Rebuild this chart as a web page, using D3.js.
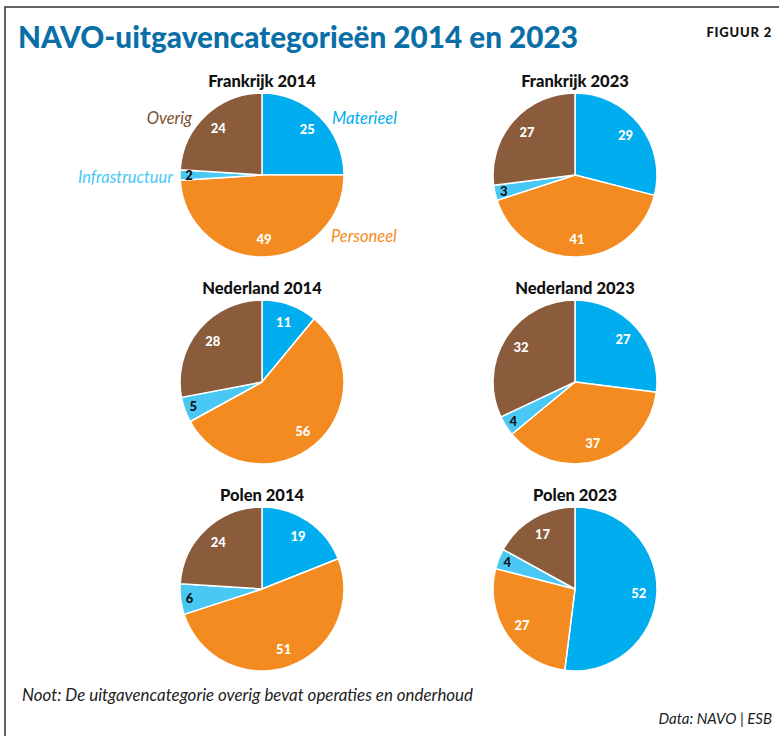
<!DOCTYPE html>
<html>
<head>
<meta charset="utf-8">
<script src="https://cdn.jsdelivr.net/npm/d3@7"></script>
<style>
  html, body { margin: 0; padding: 0; background: #fff; }
  svg { display: block; }
</style>
</head>
<body>
<svg id="chart" width="779" height="736"></svg>
<script>
// ---- data ----
const categories = ["Materieel", "Personeel", "Infrastructuur", "Overig"];
const panelTitles = ["Frankrijk 2014", "Frankrijk 2023", "Nederland 2014", "Nederland 2023", "Polen 2014", "Polen 2023"];
const frankrijk2014 = [25, 49, 2, 24];
const frankrijk2023 = [29, 41, 3, 27];
const nederland2014 = [11, 56, 5, 28];
const nederland2023 = [27, 37, 4, 32];
const polen2014 = [19, 51, 6, 24];
const polen2023 = [52, 27, 4, 17];
const panelValues = [frankrijk2014, frankrijk2023, nederland2014, nederland2023, polen2014, polen2023];

const colors = ["#00adee", "#f48b21", "#4ac8f4", "#8a5c3c"];
const labelColors = ["#ffffff", "#ffffff", "#111111", "#ffffff"];

const svg = d3.select("#chart");
const W = 779, H = 736;
const FONT = "Lato, 'Open Sans', sans-serif";

// frame
svg.append("path")
  .attr("d", `M5,${H} L5,7 L${W},7`)
  .attr("fill", "none").attr("stroke", "#333").attr("stroke-width", 1.5);

// title
svg.append("text")
  .attr("x", 18).attr("y", 48)
  .attr("font-family", FONT).attr("font-weight", 900)
  .attr("font-size", 31).attr("fill", "#0a6fa6")
  .attr("textLength", 560).attr("lengthAdjust", "spacingAndGlyphs")
  .text("NAVO-uitgavencategorieën 2014 en 2023");

svg.append("text")
  .attr("x", 772).attr("y", 37).attr("text-anchor", "end")
  .attr("font-family", FONT).attr("font-weight", 900)
  .attr("font-size", 13).attr("fill", "#111").attr("letter-spacing", 0.8)
  .text("FIGUUR 2");

// layout scales
const col = d3.scalePoint().domain([0, 1]).range([262, 575]);
const row = d3.scalePoint().domain([0, 1, 2]).range([175, 589]);
const R = 82;

const pie = d3.pie().sort(null).value(d => d);
const arc = d3.arc().innerRadius(0).outerRadius(R);

panelValues.forEach((vals, i) => {
  const cx = col(i % 2), cy = row(Math.floor(i / 2));
  const g = svg.append("g").attr("transform", `translate(${cx},${cy})`);
  const arcs = pie(vals);
  g.selectAll("path").data(arcs).enter().append("path")
    .attr("d", arc)
    .attr("fill", (d, j) => colors[j])
    .attr("stroke", "#fff").attr("stroke-width", 1.5).attr("stroke-linejoin", "round");

  g.selectAll("text.val").data(arcs).enter().append("text")
    .attr("class", "val")
    .attr("transform", d => {
      const rr = d.data < 8 ? R * 0.89 : R * 0.78;
      const a = (d.startAngle + d.endAngle) / 2;
      return `translate(${Math.sin(a) * rr},${-Math.cos(a) * rr})`;
    })
    .attr("text-anchor", "middle").attr("dy", "0.36em")
    .attr("font-family", FONT).attr("font-weight", 900).attr("font-size", 13)
    .attr("fill", (d, j) => labelColors[j])
    .text(d => d.data);

  svg.append("text")
    .attr("x", cx).attr("y", cy - R - 6).attr("text-anchor", "middle")
    .attr("font-family", FONT).attr("font-weight", 900).attr("font-size", 16.5)
    .attr("fill", "#111")
    .text(panelTitles[i]);
});

// category labels for first pie
const legendPos = [
  { x: 332, y: 124, anchor: "start" },
  { x: 331, y: 242, anchor: "start" },
  { x: 173, y: 183, anchor: "end" },
  { x: 192, y: 124, anchor: "end" }
];
const legendColors = ["#00adee", "#f48b21", "#4ac8f4", "#7a4f33"];
categories.forEach((c, j) => {
  svg.append("text")
    .attr("x", legendPos[j].x).attr("y", legendPos[j].y)
    .attr("text-anchor", legendPos[j].anchor)
    .attr("font-family", FONT).attr("font-style", "italic").attr("font-size", 16.5)
    .attr("fill", legendColors[j])
    .text(c);
});

// notes
svg.append("text")
  .attr("x", 22).attr("y", 701)
  .attr("font-family", FONT).attr("font-style", "italic").attr("font-size", 16.5)
  .attr("fill", "#222")
  .attr("textLength", 451).attr("lengthAdjust", "spacingAndGlyphs")
  .text("Noot: De uitgavencategorie overig bevat operaties en onderhoud");

svg.append("text")
  .attr("x", 772).attr("y", 724).attr("text-anchor", "end")
  .attr("font-family", FONT).attr("font-style", "italic").attr("font-size", 15)
  .attr("fill", "#222")
  .text("Data: NAVO | ESB");
</script>
</body>
</html>
